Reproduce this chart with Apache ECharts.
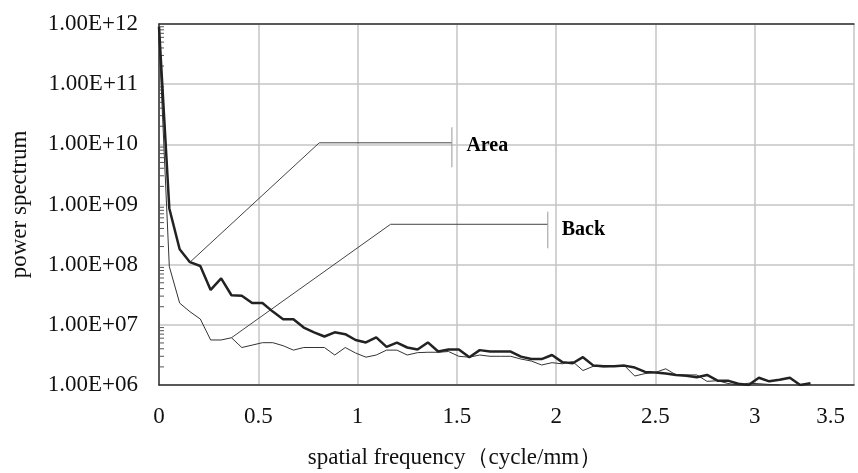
<!DOCTYPE html>
<html>
<head>
<meta charset="utf-8">
<script src="https://cdn.jsdelivr.net/npm/echarts@6/dist/echarts.min.js"></script>
<style>
  html, body { margin: 0; padding: 0; background: #fff; }
  #chart { width: 858px; height: 473px; }
</style>
</head>
<body>
<div id="chart"></div>
<script>
// sampling frequencies (cycle/mm)
var freq = [0, 0.052, 0.104, 0.156, 0.208, 0.26, 0.313, 0.365, 0.417, 0.469,
    0.521, 0.573, 0.625, 0.677, 0.729, 0.781, 0.833, 0.885, 0.938, 0.99,
    1.042, 1.094, 1.146, 1.198, 1.25, 1.302, 1.354, 1.406, 1.458, 1.51,
    1.563, 1.615, 1.667, 1.719, 1.771, 1.823, 1.875, 1.927, 1.979, 2.031,
    2.083, 2.135, 2.188, 2.24, 2.292, 2.344, 2.396, 2.448, 2.5, 2.552,
    2.604, 2.656, 2.708, 2.76, 2.813, 2.865, 2.917, 2.969, 3.021, 3.073,
    3.125, 3.177, 3.229, 3.281];

// power spectrum, "Area" (thick line)
var areaVals = [9e11, 8.6e8, 1.8e8, 1.1e8, 9.5e7, 3.8e7, 5.9e7, 3.1e7, 3.05e7, 2.3e7,
    2.3e7, 1.66e7, 1.24e7, 1.24e7, 9.0e6, 7.5e6, 6.4e6, 7.5e6, 7.0e6, 5.6e6,
    5.1e6, 6.2e6, 4.3e6, 5.05e6, 4.2e6, 3.9e6, 5.1e6, 3.6e6, 3.9e6, 3.9e6,
    2.9e6, 3.8e6, 3.6e6, 3.6e6, 3.6e6, 2.96e6, 2.7e6, 2.7e6, 3.15e6, 2.4e6,
    2.3e6, 2.9e6, 2.1e6, 2.05e6, 2.05e6, 2.1e6, 1.95e6, 1.65e6, 1.62e6, 1.55e6,
    1.47e6, 1.42e6, 1.35e6, 1.47e6, 1.18e6, 1.18e6, 1.05e6, 1.0e6, 1.32e6, 1.15e6,
    1.22e6, 1.32e6, 1.0e6, 1.07e6];

// power spectrum, "Back" (thin line)
var backVals = [6e11, 9.3e7, 2.3e7, 1.65e7, 1.25e7, 5.6e6, 5.6e6, 6.1e6, 4.2e6, 4.6e6,
    5.05e6, 5.05e6, 4.5e6, 3.8e6, 4.2e6, 4.2e6, 4.2e6, 3.15e6, 4.2e6, 3.4e6,
    2.9e6, 3.15e6, 3.8e6, 3.8e6, 3.15e6, 3.45e6, 3.5e6, 3.5e6, 3.6e6, 3.0e6,
    2.9e6, 3.15e6, 3.0e6, 3.0e6, 3.0e6, 2.7e6, 2.5e6, 2.15e6, 2.35e6, 2.25e6,
    2.45e6, 1.74e6, 2.05e6, 2.0e6, 2.05e6, 2.1e6, 1.41e6, 1.55e6, 1.62e6, 1.86e6,
    1.47e6, 1.47e6, 1.47e6, 1.15e6, 1.18e6, 1.06e6, 1.0e6, 1.07e6, 1.05e6, 1.02e6,
    1.0e6];

var yTickLabels = ['1.00E+06', '1.00E+07', '1.00E+08', '1.00E+09', '1.00E+10', '1.00E+11', '1.00E+12'];
var minorSteps = [2, 3, 4, 5, 6, 7, 8, 9];
var decades = [1e6, 1e7, 1e8, 1e9, 1e10, 1e11];

// callout leaders (data space)
var areaLeader = [[0.156, 1.1e8], [0.807, 1.06e10], [1.475, 1.06e10]];
var areaBar = [[1.475, 1.92e10], [1.475, 4.15e9]];
var backLeader = [[0.365, 6.1e6], [1.166, 4.69e8], [1.958, 4.69e8]];
var backBar = [[1.958, 7.6e8], [1.958, 1.87e8]];
var calloutText = [
    { name: 'Area', value: [1.548, 9.4e9] },
    { name: 'Back', value: [2.028, 3.77e8] }
];

function zip(xs, ys) {
    var out = [];
    for (var i = 0; i < ys.length; i++) out.push([xs[i], ys[i]]);
    return out;
}

var minorTicks = [];
decades.forEach(function (d) {
    minorSteps.forEach(function (m) { minorTicks.push([0, m * d]); });
});

var serif = '"Liberation Serif", "Times New Roman", serif';
var chart = echarts.init(document.getElementById('chart'));

function leader(data, color) {
    return {
        type: 'line', data: data, symbol: 'none', silent: true, z: 1,
        lineStyle: { color: color, width: 1 }, animation: false
    };
}

chart.setOption({
    animation: false,
    backgroundColor: '#fff',
    title: {
        text: 'spatial frequency（cycle/mm）',
        left: 450, top: 441, textAlign: 'center',
        textStyle: { fontFamily: serif, fontSize: 23, fontWeight: 'normal', color: '#111' }
    },
    grid: { left: 152, right: 4, top: 24, bottom: 88 },
    xAxis: [{
        type: 'value', min: 0, max: 3.5, interval: 0.5,
        axisLine: { show: true, lineStyle: { color: '#333', width: 1.5 } },
        axisTick: { show: false },
        axisLabel: {
            fontFamily: serif, fontSize: 23, color: '#111', margin: 20, alignMaxLabel: 'right',
            formatter: function (v) { return v === 3.5 ? '{e|3.5}' : String(v); },
            rich: { e: { fontFamily: serif, fontSize: 23, color: '#111', padding: [0, 9, 0, 0] } }
        },
        splitLine: { show: true, lineStyle: { color: '#c4c4c4', width: 1.5 } }
    }, {
        type: 'value', min: 0, max: 3.5, position: 'top',
        axisLine: { show: true, lineStyle: { color: '#333', width: 1.5 } },
        axisTick: { show: false }, axisLabel: { show: false }, splitLine: { show: false }
    }],
    yAxis: {
        type: 'log', logBase: 10, min: 1e6, max: 1e12, splitNumber: 6,
        name: 'power spectrum', nameLocation: 'middle', nameGap: 128, nameRotate: 90,
        nameTextStyle: { fontFamily: serif, fontSize: 23, color: '#111' },
        axisLine: { show: true, lineStyle: { color: '#333', width: 1.5 } },
        axisTick: { show: false },
        axisLabel: {
            fontFamily: serif, fontSize: 23, color: '#111', margin: 21,
            formatter: function (v) {
                return yTickLabels[Math.round(Math.log10(v)) - 6];
            }
        },
        splitLine: { show: true, lineStyle: { color: '#c4c4c4', width: 1.5 } }
    },
    series: [
        leader(areaLeader, '#444'),
        leader(areaBar, '#999'),
        leader(backLeader, '#444'),
        leader(backBar, '#999'),
        {
            type: 'custom', silent: true, z: 3,
            data: minorTicks,
            renderItem: function (params, api) {
                var p = api.coord([0, api.value(1)]);
                return {
                    type: 'line',
                    shape: { x1: p[0], y1: p[1], x2: p[0] + 5, y2: p[1] },
                    style: { stroke: '#555', lineWidth: 1 }
                };
            }
        },
        {
            name: 'Back', type: 'line', data: zip(freq, backVals), symbol: 'none', z: 4,
            lineStyle: { color: '#333', width: 1 }
        },
        {
            name: 'Area', type: 'line', data: zip(freq, areaVals), symbol: 'none', z: 5,
            lineStyle: { color: '#222', width: 2.5 }
        },
        {
            type: 'scatter', data: calloutText, symbolSize: 0, silent: true, z: 6,
            itemStyle: { opacity: 1 },
            label: {
                show: true, position: 'right', distance: 0,
                formatter: '{b}',
                fontFamily: serif, fontSize: 20, fontWeight: 'bold', color: '#000'
            }
        }
    ]
});
</script>
</body>
</html>
